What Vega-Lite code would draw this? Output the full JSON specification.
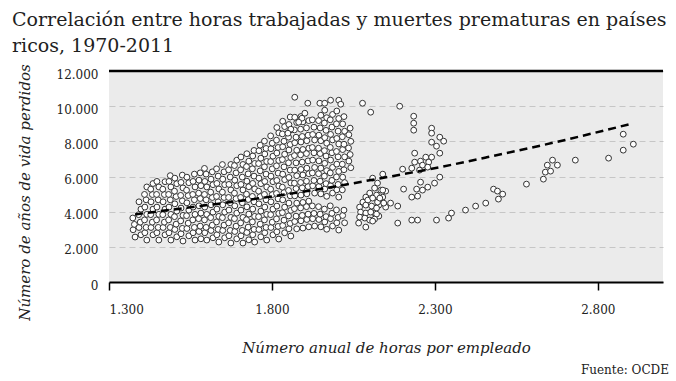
{
  "$schema": "https://vega.github.io/schema/vega-lite/v6.json",
  "width": 554,
  "height": 211,
  "autosize": {"type": "none"},
  "padding": {"left": 109, "top": 71, "right": 13, "bottom": 99},
  "background": "white",
  "title": {
    "text": ["Correlación entre horas trabajadas y muertes prematuras en países", "ricos, 1970-2011"],
    "anchor": "start",
    "frame": "group",
    "dx": -97,
    "font": "DejaVu Serif",
    "fontSize": 19,
    "fontWeight": "normal",
    "color": "#1f1f1f",
    "lineHeight": 26,
    "baseline": "bottom",
    "offset": -11
  },
  "config": {
    "view": {"fill": "#ebebeb", "stroke": null},
    "axis": {
      "labelFont": "DejaVu Serif",
      "labelFontSize": 12,
      "labelColor": "#222222",
      "titleFont": "DejaVu Serif",
      "titleFontStyle": "italic",
      "titleFontWeight": "normal",
      "titleFontSize": 15,
      "titleColor": "#222222"
    }
  },
  "datasets": {
    "puntos": [
      {"horas":1380,"vida":2556},{"horas":1374,"vida":2971},{"horas":1378,"vida":3276},{"horas":1373,"vida":3640},
      {"horas":1398,"vida":2685},{"horas":1392,"vida":3100},{"horas":1396,"vida":3405},{"horas":1391,"vida":3830},{"horas":1398,"vida":4145},{"horas":1392,"vida":4560},
      {"horas":1416,"vida":2386},{"horas":1410,"vida":2801},{"horas":1414,"vida":3106},{"horas":1409,"vida":3531},{"horas":1416,"vida":3846},{"horas":1410,"vida":4261},{"horas":1414,"vida":4676},{"horas":1409,"vida":4981},{"horas":1416,"vida":5406},
      {"horas":1435,"vida":2685},{"horas":1429,"vida":3100},{"horas":1433,"vida":3405},{"horas":1428,"vida":3830},{"horas":1435,"vida":4145},{"horas":1429,"vida":4560},{"horas":1433,"vida":4975},{"horas":1428,"vida":5280},{"horas":1435,"vida":5600},
      {"horas":1453,"vida":2386},{"horas":1447,"vida":2801},{"horas":1451,"vida":3106},{"horas":1446,"vida":3531},{"horas":1453,"vida":3846},{"horas":1447,"vida":4261},{"horas":1451,"vida":4676},{"horas":1446,"vida":4981},{"horas":1453,"vida":5406},{"horas":1447,"vida":5721},
      {"horas":1472,"vida":2685},{"horas":1466,"vida":3100},{"horas":1470,"vida":3405},{"horas":1465,"vida":3830},{"horas":1472,"vida":4145},{"horas":1466,"vida":4560},{"horas":1470,"vida":4975},{"horas":1465,"vida":5280},{"horas":1472,"vida":5705},
      {"horas":1490,"vida":2386},{"horas":1484,"vida":2801},{"horas":1488,"vida":3106},{"horas":1483,"vida":3531},{"horas":1490,"vida":3846},{"horas":1484,"vida":4261},{"horas":1488,"vida":4676},{"horas":1483,"vida":4981},{"horas":1490,"vida":5406},{"horas":1484,"vida":5721},{"horas":1488,"vida":6050},
      {"horas":1508,"vida":2571},{"horas":1502,"vida":2986},{"horas":1506,"vida":3291},{"horas":1501,"vida":3716},{"horas":1508,"vida":4031},{"horas":1502,"vida":4446},{"horas":1506,"vida":4861},{"horas":1501,"vida":5166},{"horas":1508,"vida":5591},{"horas":1502,"vida":5906},
      {"horas":1527,"vida":2330},{"horas":1521,"vida":2745},{"horas":1525,"vida":3050},{"horas":1520,"vida":3475},{"horas":1527,"vida":3790},{"horas":1521,"vida":4205},{"horas":1525,"vida":4620},{"horas":1520,"vida":4925},{"horas":1527,"vida":5350},{"horas":1521,"vida":5665},{"horas":1525,"vida":6080},
      {"horas":1545,"vida":2627},{"horas":1539,"vida":3042},{"horas":1543,"vida":3347},{"horas":1538,"vida":3772},{"horas":1545,"vida":4087},{"horas":1539,"vida":4502},{"horas":1543,"vida":4917},{"horas":1538,"vida":5222},{"horas":1545,"vida":5647},{"horas":1539,"vida":5962},
      {"horas":1564,"vida":2386},{"horas":1558,"vida":2801},{"horas":1562,"vida":3106},{"horas":1557,"vida":3531},{"horas":1564,"vida":3846},{"horas":1558,"vida":4261},{"horas":1562,"vida":4676},{"horas":1557,"vida":4981},{"horas":1564,"vida":5406},{"horas":1558,"vida":5721},{"horas":1562,"vida":6136},
      {"horas":1582,"vida":2457},{"horas":1576,"vida":2872},{"horas":1580,"vida":3177},{"horas":1575,"vida":3602},{"horas":1582,"vida":3917},{"horas":1576,"vida":4332},{"horas":1580,"vida":4747},{"horas":1575,"vida":5052},{"horas":1582,"vida":5477},{"horas":1576,"vida":5792},{"horas":1580,"vida":6207},
      {"horas":1600,"vida":2386},{"horas":1594,"vida":2801},{"horas":1598,"vida":3106},{"horas":1593,"vida":3531},{"horas":1600,"vida":3846},{"horas":1594,"vida":4261},{"horas":1598,"vida":4676},{"horas":1593,"vida":4981},{"horas":1600,"vida":5406},{"horas":1594,"vida":5721},{"horas":1598,"vida":6136},{"horas":1593,"vida":6460},
      {"horas":1619,"vida":2515},{"horas":1613,"vida":2930},{"horas":1617,"vida":3235},{"horas":1612,"vida":3660},{"horas":1619,"vida":3975},{"horas":1613,"vida":4390},{"horas":1617,"vida":4805},{"horas":1612,"vida":5110},{"horas":1619,"vida":5535},{"horas":1613,"vida":5850},{"horas":1617,"vida":6265},
      {"horas":1637,"vida":2272},{"horas":1631,"vida":2687},{"horas":1635,"vida":2992},{"horas":1630,"vida":3417},{"horas":1637,"vida":3732},{"horas":1631,"vida":4147},{"horas":1635,"vida":4562},{"horas":1630,"vida":4867},{"horas":1637,"vida":5292},{"horas":1631,"vida":5607},{"horas":1635,"vida":6022},{"horas":1630,"vida":6437},
      {"horas":1655,"vida":2515},{"horas":1649,"vida":2930},{"horas":1653,"vida":3235},{"horas":1648,"vida":3660},{"horas":1655,"vida":3975},{"horas":1649,"vida":4390},{"horas":1653,"vida":4805},{"horas":1648,"vida":5110},{"horas":1655,"vida":5535},{"horas":1649,"vida":5850},{"horas":1653,"vida":6265},{"horas":1648,"vida":6680},
      {"horas":1674,"vida":2215},{"horas":1668,"vida":2630},{"horas":1672,"vida":2935},{"horas":1667,"vida":3360},{"horas":1674,"vida":3675},{"horas":1668,"vida":4090},{"horas":1672,"vida":4505},{"horas":1667,"vida":4810},{"horas":1674,"vida":5235},{"horas":1668,"vida":5550},{"horas":1672,"vida":5965},{"horas":1667,"vida":6380},{"horas":1674,"vida":6685},
      {"horas":1692,"vida":2457},{"horas":1686,"vida":2872},{"horas":1690,"vida":3177},{"horas":1685,"vida":3602},{"horas":1692,"vida":3917},{"horas":1686,"vida":4332},{"horas":1690,"vida":4747},{"horas":1685,"vida":5052},{"horas":1692,"vida":5477},{"horas":1686,"vida":5792},{"horas":1690,"vida":6207},{"horas":1685,"vida":6622},{"horas":1692,"vida":6927},
      {"horas":1711,"vida":2215},{"horas":1705,"vida":2630},{"horas":1709,"vida":2935},{"horas":1704,"vida":3360},{"horas":1711,"vida":3675},{"horas":1705,"vida":4090},{"horas":1709,"vida":4505},{"horas":1704,"vida":4810},{"horas":1711,"vida":5235},{"horas":1705,"vida":5550},{"horas":1709,"vida":5965},{"horas":1704,"vida":6380},{"horas":1711,"vida":6685},{"horas":1705,"vida":7110},
      {"horas":1729,"vida":2400},{"horas":1723,"vida":2815},{"horas":1727,"vida":3120},{"horas":1722,"vida":3545},{"horas":1729,"vida":3860},{"horas":1723,"vida":4275},{"horas":1727,"vida":4690},{"horas":1722,"vida":4995},{"horas":1729,"vida":5420},{"horas":1723,"vida":5735},{"horas":1727,"vida":6150},{"horas":1722,"vida":6565},{"horas":1729,"vida":6870},{"horas":1723,"vida":7295},
      {"horas":1747,"vida":2272},{"horas":1741,"vida":2687},{"horas":1745,"vida":2992},{"horas":1740,"vida":3417},{"horas":1747,"vida":3732},{"horas":1741,"vida":4147},{"horas":1745,"vida":4562},{"horas":1740,"vida":4867},{"horas":1747,"vida":5292},{"horas":1741,"vida":5607},{"horas":1745,"vida":6022},{"horas":1740,"vida":6437},{"horas":1747,"vida":6742},{"horas":1741,"vida":7167},{"horas":1745,"vida":7482},
      {"horas":1766,"vida":2571},{"horas":1760,"vida":2986},{"horas":1764,"vida":3291},{"horas":1759,"vida":3716},{"horas":1766,"vida":4031},{"horas":1760,"vida":4446},{"horas":1764,"vida":4861},{"horas":1759,"vida":5166},{"horas":1766,"vida":5591},{"horas":1760,"vida":5906},{"horas":1764,"vida":6321},{"horas":1759,"vida":6736},{"horas":1766,"vida":7041},{"horas":1760,"vida":7466},{"horas":1764,"vida":7781},
      {"horas":1784,"vida":2386},{"horas":1778,"vida":2801},{"horas":1782,"vida":3106},{"horas":1777,"vida":3531},{"horas":1784,"vida":3846},{"horas":1778,"vida":4261},{"horas":1782,"vida":4676},{"horas":1777,"vida":4981},{"horas":1784,"vida":5406},{"horas":1778,"vida":5721},{"horas":1782,"vida":6136},{"horas":1777,"vida":6551},{"horas":1784,"vida":6856},{"horas":1778,"vida":7281},{"horas":1782,"vida":7596},{"horas":1777,"vida":8011},
      {"horas":1803,"vida":2685},{"horas":1797,"vida":3100},{"horas":1801,"vida":3405},{"horas":1796,"vida":3830},{"horas":1803,"vida":4145},{"horas":1797,"vida":4560},{"horas":1801,"vida":4975},{"horas":1796,"vida":5280},{"horas":1803,"vida":5705},{"horas":1797,"vida":6020},{"horas":1801,"vida":6435},{"horas":1796,"vida":6850},{"horas":1803,"vida":7155},{"horas":1797,"vida":7580},{"horas":1801,"vida":7895},{"horas":1796,"vida":8310},
      {"horas":1821,"vida":2442},{"horas":1815,"vida":2857},{"horas":1819,"vida":3162},{"horas":1814,"vida":3587},{"horas":1821,"vida":3902},{"horas":1815,"vida":4317},{"horas":1819,"vida":4732},{"horas":1814,"vida":5037},{"horas":1821,"vida":5462},{"horas":1815,"vida":5777},{"horas":1819,"vida":6192},{"horas":1814,"vida":6607},{"horas":1821,"vida":6912},{"horas":1815,"vida":7337},{"horas":1819,"vida":7652},{"horas":1814,"vida":8067},{"horas":1821,"vida":8482},{"horas":1815,"vida":8787},
      {"horas":1839,"vida":2798},{"horas":1833,"vida":3213},{"horas":1837,"vida":3518},{"horas":1832,"vida":3943},{"horas":1839,"vida":4258},{"horas":1833,"vida":4673},{"horas":1837,"vida":5088},{"horas":1832,"vida":5393},{"horas":1839,"vida":5818},{"horas":1833,"vida":6133},{"horas":1837,"vida":6548},{"horas":1832,"vida":6963},{"horas":1839,"vida":7268},{"horas":1833,"vida":7693},{"horas":1837,"vida":8008},{"horas":1832,"vida":8423},{"horas":1839,"vida":8838},{"horas":1833,"vida":9143},
      {"horas":1858,"vida":2613},{"horas":1852,"vida":3028},{"horas":1856,"vida":3333},{"horas":1851,"vida":3758},{"horas":1858,"vida":4073},{"horas":1852,"vida":4488},{"horas":1856,"vida":4903},{"horas":1851,"vida":5208},{"horas":1858,"vida":5633},{"horas":1852,"vida":5948},{"horas":1856,"vida":6363},{"horas":1851,"vida":6778},{"horas":1858,"vida":7083},{"horas":1852,"vida":7508},{"horas":1856,"vida":7823},{"horas":1851,"vida":8238},{"horas":1858,"vida":8653},{"horas":1852,"vida":8958},{"horas":1856,"vida":9383},
      {"horas":1876,"vida":3025},{"horas":1870,"vida":3440},{"horas":1874,"vida":3745},{"horas":1869,"vida":4170},{"horas":1876,"vida":4485},{"horas":1870,"vida":4900},{"horas":1874,"vida":5315},{"horas":1869,"vida":5620},{"horas":1876,"vida":6045},{"horas":1870,"vida":6360},{"horas":1874,"vida":6775},{"horas":1869,"vida":7190},{"horas":1876,"vida":7495},{"horas":1870,"vida":7920},{"horas":1874,"vida":8235},{"horas":1869,"vida":8650},{"horas":1876,"vida":9065},{"horas":1870,"vida":9370},
      {"horas":1895,"vida":3067},{"horas":1889,"vida":3482},{"horas":1893,"vida":3787},{"horas":1888,"vida":4212},{"horas":1895,"vida":4527},{"horas":1889,"vida":4942},{"horas":1893,"vida":5357},{"horas":1888,"vida":5662},{"horas":1895,"vida":6087},{"horas":1889,"vida":6402},{"horas":1893,"vida":6817},{"horas":1888,"vida":7232},{"horas":1895,"vida":7537},{"horas":1889,"vida":7962},{"horas":1893,"vida":8277},{"horas":1888,"vida":8692},{"horas":1895,"vida":9107},{"horas":1889,"vida":9412},
      {"horas":1913,"vida":3139},{"horas":1907,"vida":3554},{"horas":1911,"vida":3859},{"horas":1906,"vida":4284},{"horas":1913,"vida":4599},{"horas":1907,"vida":5014},{"horas":1911,"vida":5429},{"horas":1906,"vida":5734},{"horas":1913,"vida":6159},{"horas":1907,"vida":6474},{"horas":1911,"vida":6889},{"horas":1906,"vida":7304},{"horas":1913,"vida":7609},{"horas":1907,"vida":8034},{"horas":1911,"vida":8349},{"horas":1906,"vida":8764},{"horas":1913,"vida":9179},
      {"horas":1931,"vida":3181},{"horas":1925,"vida":3596},{"horas":1929,"vida":3901},{"horas":1924,"vida":4326},{"horas":1931,"vida":5056},{"horas":1925,"vida":5471},{"horas":1929,"vida":5776},{"horas":1924,"vida":6201},{"horas":1931,"vida":6516},{"horas":1925,"vida":6931},{"horas":1929,"vida":7346},{"horas":1924,"vida":7651},{"horas":1931,"vida":8076},{"horas":1925,"vida":8391},{"horas":1929,"vida":8806},{"horas":1924,"vida":9221},
      {"horas":1950,"vida":3139},{"horas":1944,"vida":3554},{"horas":1948,"vida":3859},{"horas":1943,"vida":4284},{"horas":1950,"vida":5014},{"horas":1944,"vida":5429},{"horas":1948,"vida":5734},{"horas":1943,"vida":6159},{"horas":1950,"vida":6474},{"horas":1944,"vida":6889},{"horas":1948,"vida":7304},{"horas":1943,"vida":7609},{"horas":1950,"vida":8034},{"horas":1944,"vida":8349},{"horas":1948,"vida":8764},{"horas":1943,"vida":9179},{"horas":1950,"vida":9484},
      {"horas":1968,"vida":3000},{"horas":1962,"vida":3415},{"horas":1966,"vida":3720},{"horas":1961,"vida":4145},{"horas":1968,"vida":4875},{"horas":1962,"vida":5290},{"horas":1966,"vida":5595},{"horas":1961,"vida":6020},{"horas":1968,"vida":6335},{"horas":1962,"vida":6750},{"horas":1966,"vida":7165},{"horas":1961,"vida":7470},{"horas":1968,"vida":7895},{"horas":1962,"vida":8210},{"horas":1966,"vida":8625},{"horas":1961,"vida":9040},{"horas":1968,"vida":9345},{"horas":1962,"vida":9770},
      {"horas":1986,"vida":3185},{"horas":1980,"vida":3600},{"horas":1984,"vida":3905},{"horas":1979,"vida":4330},{"horas":1986,"vida":5060},{"horas":1980,"vida":5475},{"horas":1984,"vida":5780},{"horas":1979,"vida":6205},{"horas":1986,"vida":6520},{"horas":1980,"vida":6935},{"horas":1984,"vida":7350},{"horas":1979,"vida":7655},{"horas":1986,"vida":8080},{"horas":1980,"vida":8395},{"horas":1984,"vida":8810},{"horas":1979,"vida":9225},{"horas":1986,"vida":9530},
      {"horas":2005,"vida":2954},{"horas":1999,"vida":3369},{"horas":2003,"vida":3674},{"horas":1998,"vida":4099},{"horas":2005,"vida":4829},{"horas":1999,"vida":5244},{"horas":2003,"vida":5549},{"horas":1998,"vida":5974},{"horas":2005,"vida":6289},{"horas":1999,"vida":6704},{"horas":2003,"vida":7119},{"horas":1998,"vida":7424},{"horas":2005,"vida":7849},{"horas":1999,"vida":8164},{"horas":2003,"vida":8579},{"horas":1998,"vida":8994},{"horas":2005,"vida":9299},{"horas":1999,"vida":9724},
      {"horas":2023,"vida":3366},{"horas":2017,"vida":3781},{"horas":2021,"vida":4086},{"horas":2016,"vida":5241},{"horas":2023,"vida":5656},{"horas":2017,"vida":5961},{"horas":2021,"vida":6386},{"horas":2016,"vida":6701},{"horas":2023,"vida":7116},{"horas":2017,"vida":7531},{"horas":2021,"vida":7836},{"horas":2016,"vida":8261},{"horas":2023,"vida":8576},{"horas":2017,"vida":8991},{"horas":2021,"vida":9406},
      {"horas":2042,"vida":6500},{"horas":2036,"vida":6875},{"horas":2040,"vida":7250},{"horas":2035,"vida":7625},{"horas":2042,"vida":8000},{"horas":2036,"vida":8375},{"horas":2040,"vida":8750},
      {"horas":1870,"vida":10508},{"horas":1910,"vida":10167},{"horas":1947,"vida":10167},{"horas":1962,"vida":10167},{"horas":1980,"vida":10338},{"horas":2005,"vida":10338},{"horas":2011,"vida":10110},{"horas":1901,"vida":9599},{"horas":1892,"vida":9315},{"horas":1882,"vida":9088},{"horas":1858,"vida":8690},{"horas":1849,"vida":8463},
      {"horas":2078,"vida":10167},{"horas":2103,"vida":9656},{"horas":2192,"vida":9997},{"horas":2235,"vida":9429},{"horas":2235,"vida":9031},{"horas":2235,"vida":8634},{"horas":2290,"vida":8747},{"horas":2290,"vida":8463},{"horas":2315,"vida":8236},{"horas":2327,"vida":8009},{"horas":2290,"vida":7952},{"horas":2305,"vida":7725},{"horas":2315,"vida":7327},{"horas":2238,"vida":7327},{"horas":2238,"vida":6816},{"horas":2256,"vida":6873},{"horas":2272,"vida":7100},{"horas":2281,"vida":6816},{"horas":2290,"vida":7100},{"horas":2262,"vida":6646},{"horas":2253,"vida":6362},{"horas":2229,"vida":6475},{"horas":2278,"vida":6532},{"horas":2201,"vida":6418},{"horas":2140,"vida":6134},{"horas":2315,"vida":5964},{"horas":2299,"vida":5623},{"horas":2278,"vida":5396},{"horas":2262,"vida":5226},{"horas":2244,"vida":5282},{"horas":2256,"vida":5680},{"horas":2247,"vida":4885},{"horas":2229,"vida":4828},{"horas":2204,"vida":5282},{"horas":2186,"vida":4317},{"horas":2164,"vida":4487},{"horas":2149,"vida":4260},{"horas":2128,"vida":4374},{"horas":2128,"vida":3749},{"horas":2115,"vida":3919},{"horas":2186,"vida":3351},{"horas":2229,"vida":3522},{"horas":2247,"vida":3522},{"horas":2305,"vida":3522},{"horas":2342,"vida":3635},{"horas":2351,"vida":3919},{"horas":2394,"vida":4090},{"horas":2425,"vida":4317},{"horas":2456,"vida":4487},{"horas":2480,"vida":5282},{"horas":2492,"vida":5169},{"horas":2508,"vida":4998},{"horas":2495,"vida":4714},{"horas":2581,"vida":5566},{"horas":2633,"vida":5850},{"horas":2639,"vida":6248},{"horas":2645,"vida":6646},{"horas":2655,"vida":6305},{"horas":2661,"vida":6930},{"horas":2676,"vida":6646},{"horas":2731,"vida":6930},{"horas":2833,"vida":7043},{"horas":2878,"vida":8406},{"horas":2878,"vida":7498},{"horas":2909,"vida":7838},
      {"horas":2109,"vida":5907},{"horas":2124,"vida":5623},{"horas":2115,"vida":5339},{"horas":2134,"vida":5226},{"horas":2149,"vida":5169},{"horas":2100,"vida":5055},{"horas":2121,"vida":4942},{"horas":2140,"vida":4828},{"horas":2088,"vida":4828},{"horas":2079,"vida":4544},{"horas":2094,"vida":4658},{"horas":2109,"vida":4771},{"horas":2124,"vida":4544},{"horas":2143,"vida":4487},{"horas":2069,"vida":4260},{"horas":2088,"vida":4374},{"horas":2106,"vida":4317},{"horas":2121,"vida":4203},{"horas":2072,"vida":3976},{"horas":2088,"vida":3919},{"horas":2103,"vida":3976},{"horas":2121,"vida":3862},{"horas":2069,"vida":3692},{"horas":2085,"vida":3635},{"horas":2100,"vida":3522},{"horas":2115,"vida":3578},{"horas":2066,"vida":3351},{"horas":2088,"vida":3124},{"horas":2109,"vida":3465},{"horas":2131,"vida":4771},{"horas":2140,"vida":5226}
    ],
    "tendencia": [
      {"horas":1380,"vida":3845},{"horas":1580,"vida":4320},{"horas":1763,"vida":4765},{"horas":1968,"vida":5350},{"horas":2131,"vida":5890},{"horas":2315,"vida":6530},{"horas":2459,"vida":7090},{"horas":2700,"vida":8080},{"horas":2906,"vida":9014}
    ]
  },
  "layer": [
    {
      "data": {"name": "puntos"},
      "mark": {"type": "circle", "size": 34, "fill": "white", "stroke": "#333333", "strokeWidth": 1, "opacity": 1},
      "encoding": {
        "x": {
          "field": "horas", "type": "quantitative",
          "scale": {"domain": [1300, 3000], "nice": false, "zero": false},
          "axis": {
            "values": [1300, 1800, 2300, 2800],
            "tickCount": 20,
            "labelExpr": "replace(format(datum.value, ','), ',', '.')",
            "title": "Número anual de horas por empleado",
            "grid": false,
            "domainColor": "black", "domainWidth": 2,
            "tickColor": "black", "tickWidth": 1.5, "tickSize": 8,
            "labelPadding": 14, "labelFlush": true,
            "titleY": 70, "titleBaseline": "alphabetic"
          }
        },
        "y": {
          "field": "vida", "type": "quantitative",
          "scale": {"domain": [0, 12000], "nice": false},
          "axis": {
            "values": [0, 2000, 4000, 6000, 8000, 10000, 12000],
            "tickCount": 20,
            "labelOverlap": false,
            "labelExpr": "replace(format(datum.value, ','), ',', '.')",
            "title": "Número de años de vida perdidos",
            "grid": true, "gridDash": [6, 4], "gridColor": "#c6c6c6", "gridWidth": 1,
            "domain": false, "ticks": false, "tickSize": 0,
            "labelPadding": 11, "labelOffset": 3,
            "titleX": -80, "titleY": 121, "titleBaseline": "alphabetic", "titleAngle": 270
          }
        }
      }
    },
    {
      "data": {"name": "tendencia"},
      "mark": {"type": "line", "color": "black", "strokeWidth": 2.5, "strokeDash": [8, 5], "interpolate": "monotone"},
      "encoding": {
        "x": {"field": "horas", "type": "quantitative"},
        "y": {"field": "vida", "type": "quantitative"}
      }
    },
    {
      "data": {"values": [{}]},
      "mark": {"type": "rule", "color": "black", "strokeWidth": 2.5},
      "encoding": {"y": {"datum": 12000}}
    },
    {
      "data": {"values": [{"fuente": "Fuente: OCDE"}]},
      "mark": {"type": "text", "align": "right", "baseline": "middle", "font": "DejaVu Serif", "fontSize": 12, "color": "#222222", "dx": 6},
      "encoding": {
        "x": {"datum": 3000},
        "y": {"datum": -5000},
        "text": {"field": "fuente"}
      }
    }
  ]
}
